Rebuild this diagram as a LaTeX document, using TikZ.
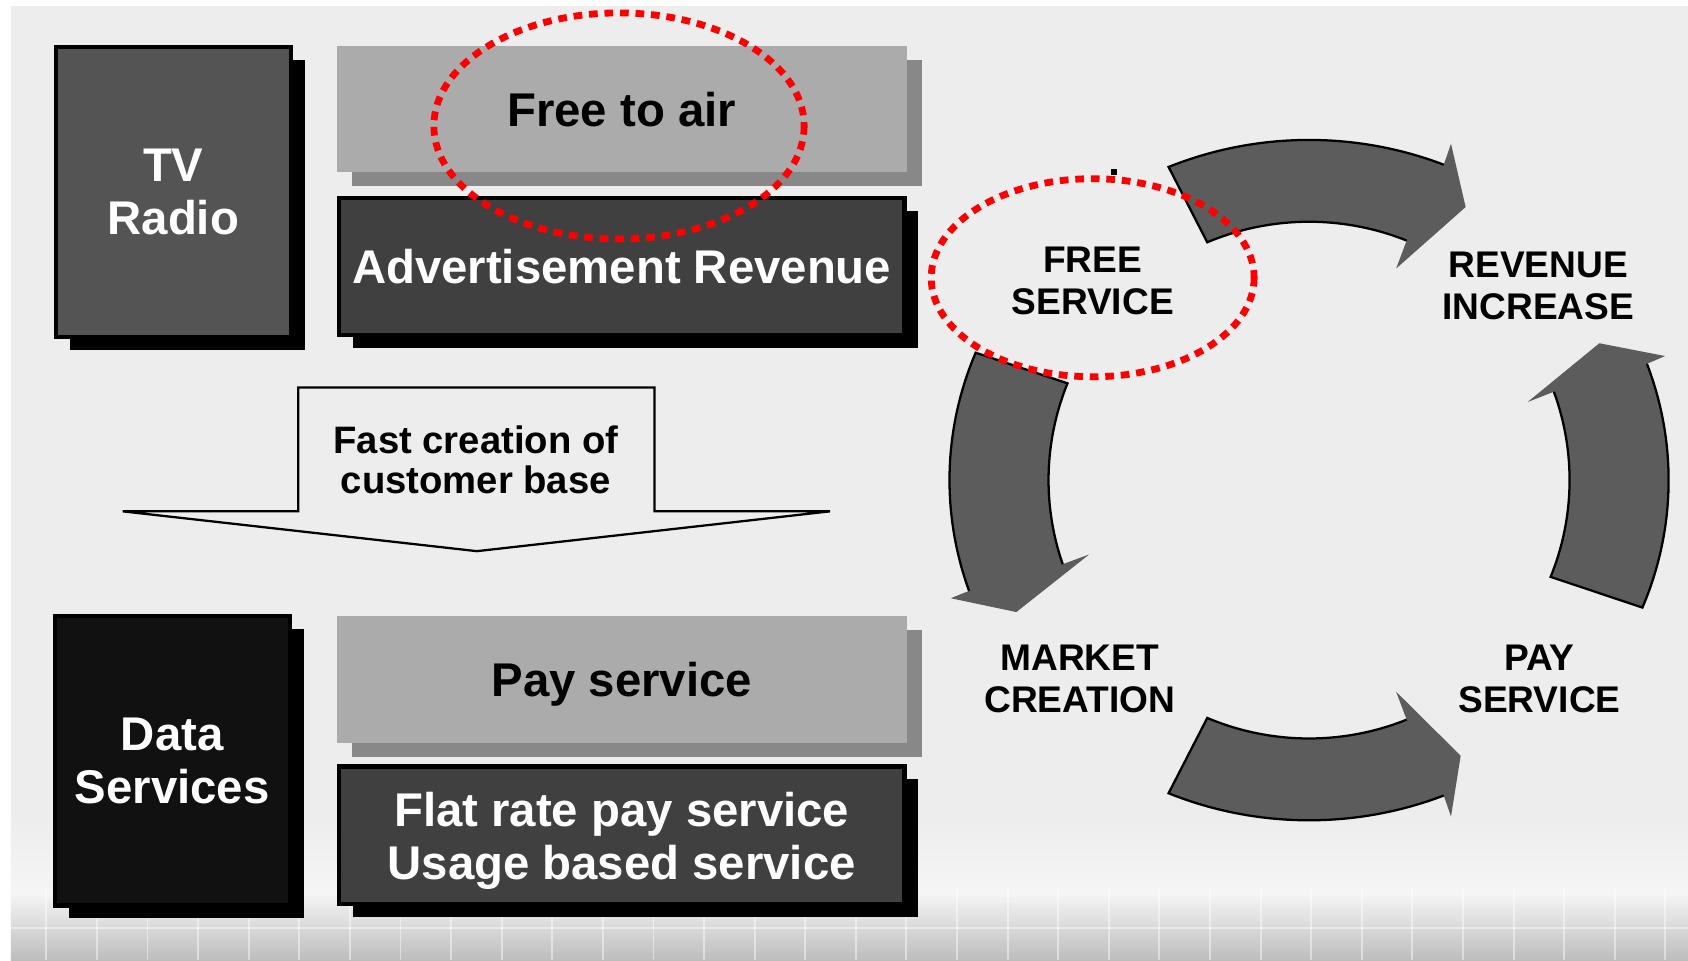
\documentclass[tikz,border=0pt]{standalone}
\usepackage{fontspec}
\setmainfont{Liberation Sans}
\usepackage{xcolor}
\usetikzlibrary{shadows}
\definecolor{bgGray}{HTML}{EDEDED}
\definecolor{bgLight}{HTML}{F5F5F5}
\definecolor{bgDark}{HTML}{BDBDBD}
\definecolor{boxLight}{HTML}{ABABAB}
\definecolor{boxShade}{HTML}{888888}
\definecolor{boxMid}{HTML}{545454}
\definecolor{boxDark}{HTML}{404040}
\definecolor{boxBlack}{HTML}{111111}
\definecolor{cycleGray}{HTML}{5C5C5C}
\definecolor{markRed}{HTML}{FF0000}

\newcommand{\boxfont}{\fontsize{12.5}{14}\selectfont\bfseries}
\newcommand{\cyclefont}{\fontsize{9.8}{11.1}\selectfont\bfseries}
\newcommand{\flowfont}{\fontsize{10.1}{10.5}\selectfont\bfseries}

% #1 tail angle, #2 head base angle, #3 tip angle
\newcommand{\cyclearrow}[3]{%
  \fill[cycleGray] (#1:334 and 316) arc[start angle=#1, end angle=#2, x radius=334, y radius=316]
    -- (#2:352 and 337) -- (#3:300 and 290) -- (#2:216 and 212) -- (#2:242 and 240)
    arc[start angle=#2, end angle=#1, x radius=242, y radius=240] -- cycle;
  \draw[cycleline] (#2:334 and 316) arc[start angle=#2, end angle=#1, x radius=334, y radius=316]
    -- (#1:242 and 240) arc[start angle=#1, end angle=#2, x radius=242, y radius=240];
}

\begin{document}
\begin{tikzpicture}[x=0.01cm, y=-0.01cm,
    darkbox/.style={draw=black, line width=1.1pt, text=white, font=\boxfont, align=center,
      drop shadow={shadow xshift=0.13cm, shadow yshift=-0.12cm, fill=black, opacity=1}},
    lightbox/.style={fill=boxLight, font=\boxfont, align=center,
      drop shadow={shadow xshift=0.14cm, shadow yshift=-0.13cm, fill=boxShade, opacity=1}},
    cyclelabel/.style={font=\cyclefont, align=center},
    redring/.style={draw=markRed, line width=1.8pt, dash pattern=on 2.3pt off 1.8pt},
    cycleline/.style={draw=black, line width=0.6pt}]
    \useasboundingbox (0,0) rectangle (1568,892);
    \fill[white] (0,0) rectangle (1568,892);
    \fill[bgGray] (10,6) rectangle (1568,892);
    \shade[top color=bgGray, bottom color=bgLight] (10,760) rectangle (1568,830);
    \shade[top color=bgLight, bottom color=bgDark] (10,830) rectangle (1568,892);
    \foreach \gx in {43,90,...,1568}
      \draw[white, opacity=0.45, line width=0.5pt] (\gx,825) -- (\gx,892);
    \draw[white, opacity=0.45, line width=0.5pt] (10,862) -- (1568,862);

    \node[darkbox, fill=boxMid, minimum width=2.18cm, minimum height=2.69cm] (tvradio) at (161,178.5) {TV\\Radio};
    \node[lightbox, minimum width=5.29cm, minimum height=1.17cm] (freeair) at (577.5,101.5) {Free to air};
    \node[darkbox, fill=boxDark, minimum width=5.25cm, minimum height=1.27cm, text depth=0pt] (adrevenue) at (577.5,247.5) {Advertisement Revenue};

    \draw[line width=0.6pt, fill=bgGray] (277,475) -- (277,360) -- (608,360) -- (608,475)
      -- (771,475) -- (443,512) -- (114,475) -- cycle;
    \node[font=\flowfont, align=center] (fastbase) at (442,427) {Fast creation of\\customer base};

    \node[darkbox, fill=boxBlack, minimum width=2.18cm, minimum height=2.69cm] (dataserv) at (160,706.5) {Data\\Services};
    \node[lightbox, minimum width=5.29cm, minimum height=1.18cm, text depth=0pt] (payserv) at (577.5,631) {Pay service};
    \node[darkbox, fill=boxDark, minimum width=5.25cm, minimum height=1.28cm, text depth=0pt] (flatrate) at (577.5,776) {Flat rate pay service\\Usage based service};

    \draw[redring] (575,117) ellipse [x radius=172, y radius=105];

    \begin{scope}[shift={(1216,446)}, yscale=-1]
      \cyclearrow{113}{68}{61}
      \cyclearrow{158}{199}{205}
      \cyclearrow{247}{292}{298}
      \cyclearrow{338}{380}{386}
    \end{scope}

    \fill (1032,157) rectangle (1038,163);
    \draw[redring] (1015,258) ellipse [x radius=150, y radius=92];

    \node[cyclelabel] (freeserv) at (1015,261) {FREE\\SERVICE};
    \node[cyclelabel] (revenue) at (1429,266) {REVENUE\\INCREASE};
    \node[cyclelabel] (market) at (1003,631) {MARKET\\CREATION};
    \node[cyclelabel] (paycycle) at (1430,631) {PAY\\SERVICE};
\end{tikzpicture}
\end{document}
